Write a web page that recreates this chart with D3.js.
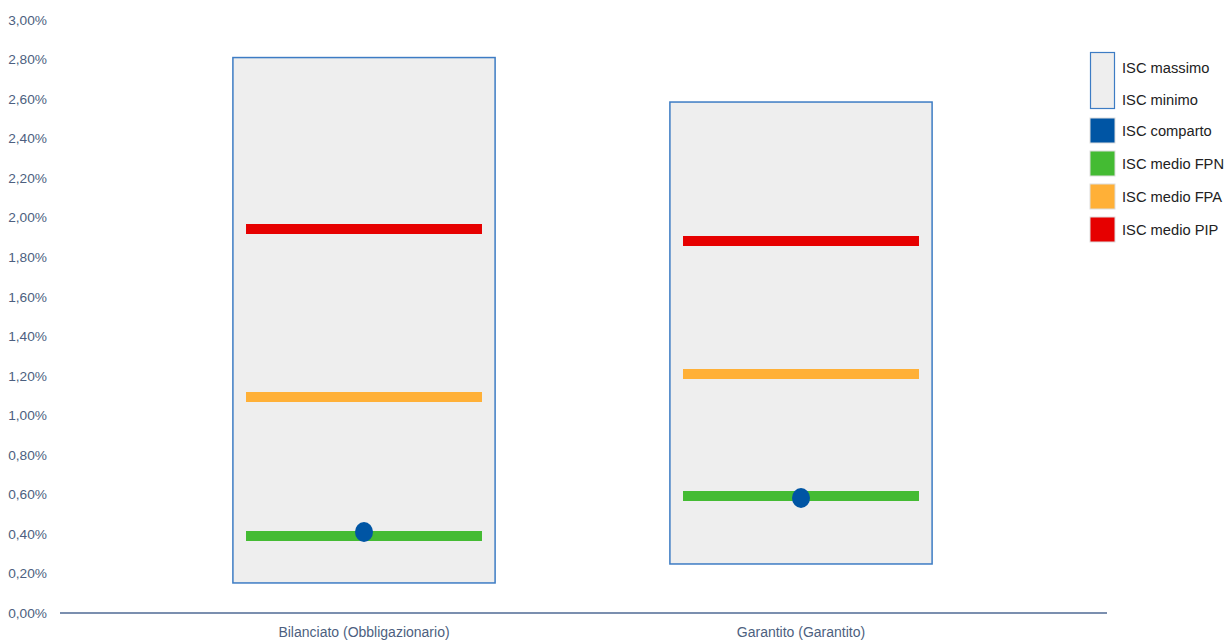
<!DOCTYPE html>
<html>
<head>
<meta charset="utf-8">
<script src="https://cdn.jsdelivr.net/npm/d3@7"></script>
<style>
  body { margin: 0; background: #fff; }
  svg { font-family: "Liberation Sans", Arial, sans-serif; }
</style>
</head>
<body>
<svg id="chart" width="1232" height="642"></svg>
<script>
const categories = ['Bilanciato (Obbligazionario)', 'Garantito (Garantito)']
const iscMassimo = [2.81, 2.585]
const iscMinimo = [0.152, 0.248]
const iscComparto = [0.41, 0.582]
const iscFPN = [0.39, 0.592]
const iscFPA = [1.093, 1.209]
const iscPIP = [1.943, 1.882]
const yTicks = [0, 0.2, 0.4, 0.6, 0.8, 1, 1.2, 1.4, 1.6, 1.8, 2, 2.2, 2.4, 2.6, 2.8, 3]

const legendItems = [
  { label: 'ISC comparto', color: '#0055a4' },
  { label: 'ISC medio FPN', color: '#44bb33' },
  { label: 'ISC medio FPA', color: '#ffb037' },
  { label: 'ISC medio PIP', color: '#e60000' }
]

const svg = d3.select('#chart')
const textColor = '#4d5f80'

const y = d3.scaleLinear().domain([0, 3]).range([613, 20])
const x = d3.scaleBand().domain(categories).range([145.5, 1019.5])
const step = x.bandwidth()
const boxW = step * 0.6
const lineW = step * 0.54

// y labels
svg.append('g')
  .selectAll('text')
  .data(yTicks)
  .enter().append('text')
  .attr('x', 47)
  .attr('y', d => y(d))
  .attr('dy', '0.35em')
  .attr('text-anchor', 'end')
  .attr('font-size', 13.7)
  .attr('fill', textColor)
  .text(d => d.toFixed(2).replace('.', ',') + '%')

// baseline
svg.append('line')
  .attr('x1', 60).attr('x2', 1107)
  .attr('y1', y(0)).attr('y2', y(0))
  .attr('stroke', '#4f6a94')
  .attr('stroke-width', 1.5)

// category labels
svg.append('g')
  .selectAll('text')
  .data(categories)
  .enter().append('text')
  .attr('x', d => x(d) + step / 2)
  .attr('y', 637)
  .attr('text-anchor', 'middle')
  .attr('font-size', 14)
  .attr('fill', textColor)
  .text(d => d)

const groups = svg.selectAll('g.cat')
  .data(categories)
  .enter().append('g')
  .attr('class', 'cat')

// range boxes
groups.append('rect')
  .attr('x', d => x(d) + (step - boxW) / 2)
  .attr('y', (d, i) => y(iscMassimo[i]))
  .attr('width', boxW)
  .attr('height', (d, i) => y(iscMinimo[i]) - y(iscMassimo[i]))
  .attr('fill', '#eeeeee')
  .attr('stroke', '#3d7cc4')
  .attr('stroke-width', 1.5)

const series = [
  { values: iscPIP, color: '#e60000' },
  { values: iscFPA, color: '#ffb037' },
  { values: iscFPN, color: '#44bb33' }
]

series.forEach(s => {
  groups.append('line')
    .attr('x1', d => x(d) + (step - lineW) / 2)
    .attr('x2', d => x(d) + (step + lineW) / 2)
    .attr('y1', (d, i) => y(s.values[i]))
    .attr('y2', (d, i) => y(s.values[i]))
    .attr('stroke', s.color)
    .attr('stroke-width', 10)
})

groups.append('ellipse')
  .attr('cx', d => x(d) + step / 2)
  .attr('cy', (d, i) => y(iscComparto[i]))
  .attr('rx', 9)
  .attr('ry', 10)
  .attr('fill', '#0055a4')

// legend
const legend = svg.append('g').attr('transform', 'translate(1090, 52)')
legend.append('rect')
  .attr('x', 0.5).attr('y', 0.5)
  .attr('width', 24).attr('height', 56)
  .attr('fill', '#eeeeee')
  .attr('stroke', '#3d7cc4')
  .attr('stroke-width', 1.2)
legend.append('text').attr('x', 32).attr('y', 16).attr('dy', '0.35em')
  .attr('font-size', 14.7).attr('fill', '#222').text('ISC massimo')
legend.append('text').attr('x', 32).attr('y', 48).attr('dy', '0.35em')
  .attr('font-size', 14.7).attr('fill', '#222').text('ISC minimo')

const li = legend.selectAll('g.li')
  .data(legendItems)
  .enter().append('g')
  .attr('class', 'li')
  .attr('transform', (d, i) => `translate(0, ${66 + i * 33})`)
li.append('rect')
  .attr('width', 25).attr('height', 25)
  .attr('fill', d => d.color)
  .attr('stroke', '#dddddd')
  .attr('stroke-width', 1)
li.append('text')
  .attr('x', 32).attr('y', 13).attr('dy', '0.35em')
  .attr('font-size', 14.7).attr('fill', '#222')
  .text(d => d.label)
</script>
</body>
</html>
